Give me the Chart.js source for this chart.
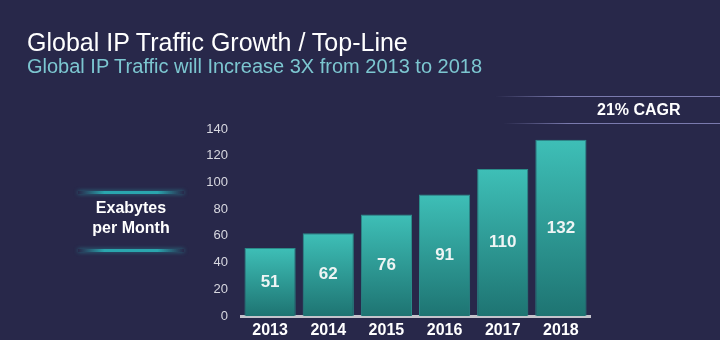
<!DOCTYPE html>
<html>
<head>
<meta charset="utf-8">
<script src="https://cdn.jsdelivr.net/npm/chart.js@4"></script>
<style>
  html, body { margin: 0; padding: 0; }
  body { width: 720px; height: 340px; background: #28284a; position: relative; overflow: hidden;
         font-family: "Liberation Sans", Arial, sans-serif; }
  #chart { position: absolute; left: 0; top: 0; }
  .title { position: absolute; left: 27px; top: 28px; color: #ffffff; font-size: 25px; white-space: nowrap; }
  .subtitle { position: absolute; left: 27px; top: 55px; color: #7cc6d0; font-size: 20px; white-space: nowrap; }
  .cagr { position: absolute; left: 597px; top: 101px; color: #ffffff; font-size: 16px; font-weight: bold; white-space: nowrap; }
  .hline { position: absolute; height: 1px; right: 0; background: linear-gradient(to right, rgba(120,120,170,0), #7a7aae 30%); }
  .unit { position: absolute; left: 81px; width: 100px; top: 198px; color: #ffffff; font-size: 16px;
          font-weight: bold; text-align: center; line-height: 20px; }
  .glow { position: absolute; left: 78px; width: 106px; height: 3px;
          background: linear-gradient(to right, rgba(40,160,170,0), #2aa6ae 25%, #2aa6ae 75%, rgba(40,160,170,0));
          box-shadow: 0 0 4px rgba(42,166,174,0.6); }
</style>
</head>
<body>
<canvas id="chart" width="720" height="340"></canvas>
<div class="title">Global IP Traffic Growth / Top-Line</div>
<div class="subtitle">Global IP Traffic will Increase 3X from 2013 to 2018</div>
<div class="hline" style="left:495px; top:96px;"></div>
<div class="cagr">21% CAGR</div>
<div class="hline" style="left:503px; top:123px;"></div>
<div class="glow" style="top:191px;"></div>
<div class="unit">Exabytes<br>per Month</div>
<div class="glow" style="top:249px;"></div>
<script>
// --- Data ---
const years = ["2013", "2014", "2015", "2016", "2017", "2018"];
const traffic = [51, 62, 76, 91, 110, 132];
const yTicks = [0, 20, 40, 60, 80, 100, 120, 140];

// gradient per bar, top bright teal to darker teal at the base
function barFill(ctx) {
    const chart = ctx.chart;
    const area = chart.chartArea;
    if (!area || ctx.dataIndex === undefined) return "#2fa39e";
    const yScale = chart.scales.y;
    const top = yScale.getPixelForValue(ctx.raw);
    const g = chart.ctx.createLinearGradient(0, top, 0, area.bottom);
    g.addColorStop(0, "#3ebfb7");
    g.addColorStop(1, "#1e7472");
    return g;
}

// value labels in the middle of each bar
const valueLabels = {
    id: "valueLabels",
    afterDatasetsDraw(chart) {
        const c = chart.ctx;
        const meta = chart.getDatasetMeta(0);
        c.save();
        c.font = "bold 17px 'Liberation Sans', Arial, sans-serif";
        c.fillStyle = "#eef4f4";
        c.textAlign = "center";
        c.textBaseline = "middle";
        meta.data.forEach((bar, i) => {
            const mid = (bar.y + bar.base) / 2;
            c.fillText(String(traffic[i]), bar.x, mid);
        });
        c.restore();
    }
};

new Chart(document.getElementById("chart"), {
    type: "bar",
    data: {
        labels: years,
        datasets: [{
            data: traffic,
            backgroundColor: barFill,
            borderColor: "#2a8c89",
            borderWidth: 1,
            barPercentage: 0.88,
            categoryPercentage: 1.0
        }]
    },
    options: {
        responsive: false,
        animation: false,
        events: [],
        layout: { padding: { top: 129, right: 130, left: 0, bottom: 0 } },
        plugins: { legend: { display: false }, tooltip: { enabled: false } },
        scales: {
            x: {
                grid: { display: false, drawTicks: false },
                border: { display: true, color: "#c4c4cc", width: 3 },
                ticks: { color: "#ffffff", font: { size: 16, weight: "bold", family: "'Liberation Sans', Arial, sans-serif" }, padding: 5 },
                afterFit(scale) { scale.height = 24; }
            },
            y: {
                min: 0,
                max: 140,
                afterBuildTicks(scale) { scale.ticks = yTicks.map(v => ({ value: v })); },
                grid: { display: false, drawTicks: false },
                border: { display: false },
                ticks: { color: "#d8d8e0", font: { size: 13, family: "'Liberation Sans', Arial, sans-serif" }, padding: 13 },
                afterFit(scale) { scale.width = 241; }
            }
        }
    },
    plugins: [valueLabels]
});
</script>
</body>
</html>
